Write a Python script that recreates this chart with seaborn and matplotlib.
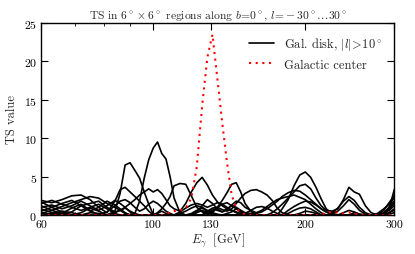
import seaborn as sns
import matplotlib.pyplot as plt
import pandas as pd
from matplotlib.lines import Line2D
from matplotlib.ticker import FixedLocator, NullFormatter

# Photon energy grid (GeV) shared by all TS curves
energy = [60, 63, 66, 69, 72, 75, 78, 81, 84, 86,
          88, 90, 92, 94, 96, 98, 100, 102, 104, 106,
          108, 110, 113, 116, 119, 122, 125, 128, 131, 134,
          137, 140, 143, 146, 149, 152, 156, 160, 164, 168,
          172, 176, 180, 185, 190, 195, 200, 205, 210, 215,
          220, 226, 232, 238, 244, 250, 256, 263, 270, 278,
          286, 293, 300]

# TS values of the Galactic disk regions (|l| > 10 deg)
disk_1 = [1.2, 0.6, 0.2, 0.0, 0.3, 0.9, 0.5, 0.0, 0.0, 0.0,
          0.0, 0.0, 0.2, 1.8, 4.8, 7.2, 8.7, 9.5, 8.0, 7.3,
          5.0, 2.2, 0.3, 0.0, 0.2, 0.6, 0.9, 0.5, 0.2, 0.0,
          0.0, 0.0, 0.0, 0.0, 0.0, 0.0, 0.0, 0.0, 0.0, 0.0,
          0.0, 0.0, 0.0, 0.2, 0.6, 0.9, 1.0, 0.8, 0.4, 0.0,
          0.0, 0.0, 0.0, 0.0, 0.0, 0.0, 0.0, 0.0, 0.0, 0.0,
          0.2, 0.6, 1.2]
disk_2 = [0.5, 1.0, 0.4, 0.0, 0.0, 0.3, 0.2, 0.0, 0.5, 2.8,
          6.5, 6.8, 5.8, 4.8, 3.0, 1.4, 0.1, 0.0, 0.0, 0.0,
          0.0, 0.0, 0.0, 0.0, 0.0, 0.3, 0.6, 0.3, 0.0, 0.0,
          0.0, 0.0, 0.0, 0.0, 0.0, 0.2, 0.6, 1.0, 1.1, 0.9,
          0.5, 0.2, 0.0, 0.0, 0.0, 0.0, 0.0, 0.0, 0.0, 0.0,
          0.0, 0.0, 0.0, 0.3, 0.6, 0.4, 0.1, 0.0, 0.0, 0.0,
          0.0, 0.3, 0.6]
disk_3 = [1.9, 1.6, 2.0, 2.5, 2.6, 2.0, 1.0, 0.3, 1.8, 3.3,
          3.6, 3.0, 2.4, 1.8, 1.2, 0.5, 0.0, 0.0, 0.0, 0.0,
          0.0, 0.0, 0.0, 0.0, 0.0, 0.0, 0.0, 0.0, 0.3, 1.0,
          1.9, 2.9, 4.0, 4.2, 3.0, 1.5, 0.5, 0.0, 0.0, 0.0,
          0.0, 0.0, 0.0, 0.0, 0.0, 0.2, 0.5, 0.4, 0.2, 0.0,
          0.0, 0.0, 0.0, 0.0, 0.0, 0.0, 0.0, 0.0, 0.0, 0.0,
          0.6, 1.6, 2.5]
disk_4 = [0.8, 0.3, 0.0, 0.4, 1.2, 1.5, 1.8, 1.0, 0.4, 0.6,
          1.0, 1.5, 2.0, 2.6, 3.0, 3.4, 3.0, 3.3, 2.8, 2.0,
          1.2, 0.8, 0.5, 1.5, 3.0, 4.2, 4.9, 3.9, 2.6, 1.7,
          1.2, 0.8, 0.6, 0.4, 0.2, 0.0, 0.0, 0.0, 0.0, 0.0,
          0.0, 0.0, 0.0, 0.0, 0.0, 0.0, 0.0, 0.0, 0.0, 0.0,
          0.0, 0.3, 0.9, 1.8, 2.4, 1.9, 1.0, 0.3, 0.0, 0.0,
          0.2, 0.8, 1.5]
disk_5 = [1.5, 1.9, 1.4, 1.0, 0.6, 1.0, 1.4, 0.8, 0.2, 0.0,
          0.0, 0.0, 0.0, 0.0, 0.0, 0.0, 0.0, 0.3, 0.8, 1.5,
          2.4, 3.8, 4.1, 4.0, 2.5, 1.0, 0.4, 0.2, 0.5, 1.0,
          1.4, 1.6, 1.2, 0.8, 0.4, 0.0, 0.0, 0.0, 0.0, 0.0,
          0.0, 0.0, 0.8, 2.0, 3.8, 5.2, 5.6, 4.9, 3.6, 2.1,
          0.8, 0.2, 0.0, 0.0, 0.0, 0.0, 0.0, 0.0, 0.0, 0.0,
          0.0, 0.1, 0.3]
disk_6 = [0.2, 0.6, 1.1, 1.6, 2.0, 2.4, 2.2, 1.5, 1.0, 0.6,
          0.2, 0.0, 0.0, 0.0, 0.0, 0.0, 0.0, 0.0, 0.0, 0.0,
          0.0, 0.0, 0.0, 0.0, 0.0, 0.0, 0.0, 0.5, 0.9, 1.0,
          0.7, 0.5, 0.8, 1.5, 2.2, 2.8, 3.2, 3.3, 3.0, 2.6,
          1.9, 0.9, 0.3, 0.0, 0.0, 0.0, 0.0, 0.0, 0.0, 0.0,
          0.0, 0.0, 0.0, 0.0, 0.0, 0.3, 0.1, 0.0, 0.0, 0.0,
          0.0, 1.0, 2.6]
disk_7 = [0.0, 0.2, 0.5, 0.3, 0.0, 0.0, 0.0, 0.0, 0.3, 0.6,
          0.9, 0.5, 0.2, 0.0, 0.0, 0.0, 0.0, 0.0, 0.0, 0.0,
          0.0, 0.0, 0.2, 0.5, 0.9, 1.2, 1.0, 0.6, 0.3, 0.1,
          0.0, 0.2, 0.4, 0.8, 0.6, 0.2, 0.0, 0.0, 0.0, 0.0,
          0.3, 0.8, 1.4, 2.2, 3.0, 3.8, 4.0, 3.4, 2.2, 1.2,
          0.6, 0.5, 0.8, 2.0, 3.6, 3.0, 2.7, 1.2, 0.3, 0.0,
          0.0, 0.8, 3.3]
disk_8 = [1.0, 1.3, 0.8, 1.2, 1.8, 1.2, 0.6, 1.2, 1.9, 1.5,
          1.0, 0.4, 0.0, 0.0, 0.0, 0.0, 0.0, 0.2, 0.5, 0.2,
          0.0, 0.0, 0.0, 0.0, 0.0, 0.0, 0.0, 0.4, 0.8, 0.6,
          0.4, 0.8, 1.2, 1.0, 0.6, 0.3, 0.2, 0.2, 0.4, 0.8,
          1.3, 1.8, 2.4, 2.9, 3.2, 3.1, 2.6, 2.0, 1.4, 0.8,
          0.4, 0.2, 0.5, 1.2, 2.0, 1.4, 0.6, 0.1, 0.0, 0.0,
          0.3, 1.0, 1.8]
disk_9 = [0.3, 0.0, 0.2, 0.9, 1.4, 0.6, 0.0, 0.4, 1.2, 1.8,
          2.0, 1.6, 1.0, 0.5, 0.8, 1.4, 1.8, 1.5, 1.0, 0.5,
          0.2, 0.0, 0.0, 0.0, 0.0, 0.4, 1.2, 2.0, 1.5, 0.8,
          0.4, 0.7, 1.3, 1.8, 1.6, 1.0, 0.6, 0.3, 0.6, 1.1,
          1.6, 2.0, 2.2, 2.4, 2.6, 2.3, 2.0, 1.4, 0.8, 0.3,
          0.0, 0.0, 0.0, 0.0, 0.0, 0.0, 0.0, 0.0, 0.0, 0.2,
          0.8, 1.4, 2.2]
disk_10 = [1.7, 1.0, 1.5, 1.9, 1.2, 0.5, 1.0, 1.8, 1.3, 0.8,
           0.3, 0.0, 0.0, 0.0, 0.0, 0.0, 0.0, 0.0, 0.0, 0.0,
           0.0, 0.0, 0.4, 0.9, 1.3, 1.5, 1.3, 1.0, 1.3, 1.6,
           1.4, 1.0, 0.6, 0.3, 0.0, 0.0, 0.0, 0.0, 0.0, 0.0,
           0.0, 0.0, 0.0, 0.6, 1.1, 1.5, 1.8, 1.7, 1.3, 0.8,
           0.4, 0.1, 0.0, 0.0, 0.0, 0.0, 0.0, 0.0, 0.0, 0.0,
           0.0, 0.3, 0.8]

# TS of the Galactic center region
center = [0.0, 0.0, 0.0, 0.0, 0.0, 0.0, 0.0, 0.0, 0.0, 0.0,
          0.0, 0.0, 0.0, 0.0, 0.0, 0.0, 0.0, 0.0, 0.0, 0.1,
          0.35, 0.5, 0.6, 0.9, 2.2, 6.3, 14.2, 20.5, 23.5, 17.7,
          12.0, 6.8, 2.6, 0.9, 0.3, 0.1, 0.0, 0.0, 0.0, 0.0,
          0.0, 0.0, 0.0, 0.0, 0.0, 0.0, 0.0, 0.0, 0.0, 0.0,
          0.3, 0.4, 0.3, 0.2, 0.3, 0.2, 0.0, 0.0, 0.0, 0.0,
          0.0, 0.0, 0.0]

disk_curves = [disk_1, disk_2, disk_3, disk_4, disk_5,
               disk_6, disk_7, disk_8, disk_9, disk_10]

# Long-form table for seaborn
disk_df = pd.concat(
    [pd.DataFrame({'E': energy, 'TS': ts, 'region': i})
     for i, ts in enumerate(disk_curves)],
    ignore_index=True)
gc_df = pd.DataFrame({'E': energy, 'TS': center})

sns.set_style("ticks")
plt.rcParams['font.family'] = 'serif'
plt.rcParams['font.serif'] = ['cmr10']
plt.rcParams['mathtext.fontset'] = 'cm'
plt.rcParams['axes.unicode_minus'] = False
plt.rcParams['axes.formatter.use_mathtext'] = True

fig = plt.figure(figsize=(4.15, 2.55), dpi=100)
ax = fig.add_axes([0.099, 0.153, 0.851, 0.753])

sns.lineplot(data=disk_df, x='E', y='TS', units='region', estimator=None,
             color='black', linewidth=1.2, ax=ax)
sns.lineplot(data=gc_df, x='E', y='TS', color='red',
             linestyle=(0, (1, 2.2)), linewidth=1.5, ax=ax)

ax.set_xscale('log')
ax.set_xlim(60, 300)
ax.set_ylim(0, 25)
ax.xaxis.set_major_locator(FixedLocator([60, 100, 130, 200, 300]))
ax.set_xticklabels(['60', '100', '130', '200', '300'])
ax.xaxis.set_minor_formatter(NullFormatter())
ax.set_yticks([0, 5, 10, 15, 20, 25])

ax.tick_params(which='both', direction='in', top=True, right=True,
               labelsize=8.5, colors='black')
ax.tick_params(which='major', length=5, width=0.8, pad=3)
ax.tick_params(which='minor', length=2.5, width=0.6)
for spine in ax.spines.values():
    spine.set_linewidth(1.0)
    spine.set_color('black')

ax.set_xlabel(r'$E_\gamma\ \ [\mathrm{GeV}]$', fontsize=9, labelpad=1)
ax.set_ylabel('TS value', fontsize=9, labelpad=4)
ax.set_title(r'TS in $6^\circ\times6^\circ$ regions along $b\!=\!0^\circ$, '
             r'$l\!=\!-30^\circ\ldots30^\circ$', fontsize=8.3, pad=4)

handles = [Line2D([], [], color='black', linewidth=1.2),
           Line2D([], [], color='red', linestyle=(0, (1, 2.2)), linewidth=1.5)]
ax.legend(handles, [r'Gal. disk, $|l|\!>\!10^\circ$', 'Galactic center'],
          loc='upper right', frameon=False, fontsize=9,
          handlelength=2.0, borderaxespad=0.6, labelspacing=0.5)

plt.savefig('out.png', dpi=100, facecolor='white')
